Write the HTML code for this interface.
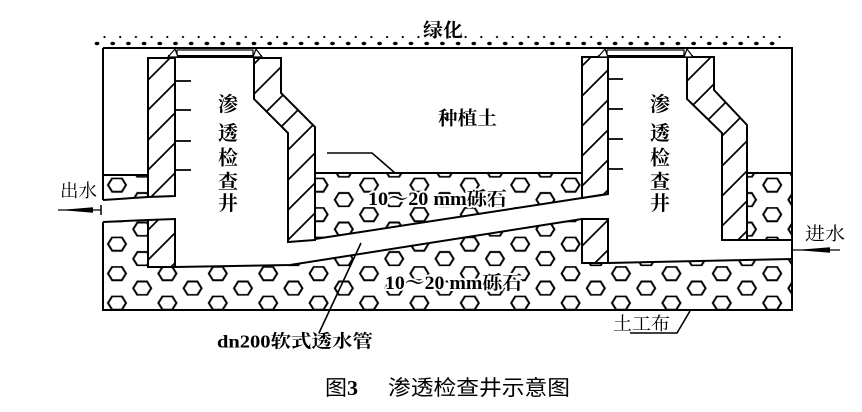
<!DOCTYPE html>
<html><head><meta charset="utf-8">
<style>
html,body{margin:0;padding:0;background:#fff;}
svg{display:block;}
.b{font-family:"Liberation Serif","Noto Serif CJK SC",serif;font-weight:bold;fill:#000;}
.n{font-family:"Liberation Serif","Noto Serif CJK SC",serif;font-weight:normal;fill:#000;}
.s{font-family:"Liberation Sans","Noto Sans CJK SC",sans-serif;font-weight:normal;fill:#000;}
.g{paint-order:stroke;stroke:#fff;stroke-width:4px;stroke-linejoin:round;}
</style></head><body>
<svg width="862" height="412" viewBox="0 0 862 412" xmlns="http://www.w3.org/2000/svg">
<defs>
<pattern id="hx" patternUnits="userSpaceOnUse" x="104.4" y="0.625" width="50.4" height="29.5">
<path d="M3.6,7.375 L7.8,0.6 L17.4,0.6 L21.6,7.375 L17.4,14.15 L7.8,14.15Z M28.8,22.125 L33,15.35 L42.6,15.35 L46.8,22.125 L42.6,28.9 L33,28.9Z" fill="none" stroke="#000" stroke-width="2"/>
</pattern>
<pattern id="ht" patternUnits="userSpaceOnUse" x="-12" y="0" width="30" height="30">
<path d="M-2,32 L32,-2 M-2,2 L2,-2 M28,32 L32,28" stroke="#000" stroke-width="1.7"/>
</pattern>
<pattern id="dt" patternUnits="userSpaceOnUse" x="94" y="34" width="15.7" height="12">
<ellipse cx="3" cy="9.5" rx="2.4" ry="1.7" fill="#000"/>
<circle cx="10.5" cy="3" r="1.1" fill="#000"/>
</pattern>
</defs>

<!-- top dots -->
<rect x="92" y="34" width="690" height="12" fill="url(#dt)"/>

<!-- gravel regions -->
<g fill="url(#hx)">
<polygon points="103,175 148,175 148,197 103,200"/>
<polygon points="103,222 148,220 148,267 175,267 290,265 582,219 582,263 608,263 792,259 792,310 103,310"/>
<polygon points="315,173 582,173 582,198 315,239"/>
<polygon points="748,173 792,173 792,240 748,240"/>
</g>

<!-- outlines -->
<g fill="none" stroke="#000" stroke-width="2" stroke-linejoin="miter">
<path d="M103,48 H792 V310 H103 V222"/>
<path d="M103,48 V200"/>
<path d="M103,175 H148"/>
<path d="M103,200 L148,197"/>
<path d="M103,222 L148,220"/>
<path d="M175,267 L290,265 L582,219"/>
<path d="M315,239 L608,194"/>
<path d="M315,173 H582"/>
<path d="M748,173 H792"/>
<path d="M608,263 L792,259"/>
<path d="M722,240 H792"/>
</g>
<path d="M101,205 V215" stroke="#000" stroke-width="1.5"/>

<!-- hatched walls -->
<g fill="url(#ht)" stroke="#000" stroke-width="2">
<polygon points="148,58 175,58 175,196 148,197"/>
<polygon points="148,220 175,219 175,267 148,267"/>
<polygon points="254,58 281,58 281,93 315,127 315,240 288,242 288,133 254,99"/>
<polygon points="582,57 608,57 608,194 582,198"/>
<polygon points="582,219 608,219 608,263 582,263"/>
<polygon points="687,57 714,57 714,90 747,125 747,240 722,240 722,133 687,99"/>
</g>

<!-- rungs -->
<path d="M175,81 H191 M175,110 H191 M175,141 H191 M175,170 H191 M608,79 H623 M608,109 H623 M608,139 H623 M608,169 H623" stroke="#000" stroke-width="1.8"/>

<!-- covers -->
<g stroke="#000" fill="#fff">
<rect x="177" y="50" width="76" height="6" stroke-width="1.2"/>
<path d="M168,56.5 H262" stroke-width="3"/>
<polygon points="168,57 175,49 178,57" stroke-width="1.2"/>
<polygon points="253,57 256,49 262,57" stroke-width="1.2"/>
<rect x="607" y="50" width="77" height="6" stroke-width="1.2"/>
<path d="M598,56.5 H693" stroke-width="3"/>
<polygon points="598,57 605,49 608,57" stroke-width="1.2"/>
<polygon points="684,57 687,49 693,57" stroke-width="1.2"/>
</g>

<!-- leaders -->
<g fill="none" stroke="#000" stroke-width="1.6">
<path d="M327,153 H372 L395,173"/>
<path d="M319,333 L361,243"/>
<path d="M630,333 H677 L690,311"/>
</g>

<!-- arrows -->
<path d="M58,210 H101" stroke="#000" stroke-width="1.3"/>
<polygon points="60,210 93,207.3 93,212.7" fill="#000"/>
<path d="M792,250 H840" stroke="#000" stroke-width="1.3"/>
<polygon points="796,250 830,247.3 830,252.7" fill="#000"/>

<!-- texts -->
<text class="b" x="423" y="36.5" font-size="19" textLength="40" lengthAdjust="spacingAndGlyphs">绿化</text>
<text class="b" x="438" y="124.5" font-size="19" textLength="59" lengthAdjust="spacingAndGlyphs">种植土</text>

<g class="b" font-size="20" text-anchor="middle">
<text x="228" y="111">渗</text>
<text x="228" y="140">透</text>
<text x="228" y="164.5">检</text>
<text x="228" y="188.5">查</text>
<text x="228" y="210">井</text>
<text x="660" y="111">渗</text>
<text x="660" y="140">透</text>
<text x="660" y="164.5">检</text>
<text x="660" y="188.5">查</text>
<text x="660" y="210">井</text>
</g>

<text class="n" x="60" y="197" font-size="18" textLength="37" lengthAdjust="spacingAndGlyphs">出水</text>
<text class="n" x="805" y="240" font-size="18" textLength="40" lengthAdjust="spacingAndGlyphs">进水</text>

<text class="b g" x="368" y="205" font-size="19" textLength="139" lengthAdjust="spacingAndGlyphs">10～20 mm砾石</text>
<text class="b g" x="385" y="289" font-size="19" textLength="137" lengthAdjust="spacingAndGlyphs">10～20 mm砾石</text>

<text class="b" x="217" y="347.5" font-size="18" textLength="156" lengthAdjust="spacingAndGlyphs">dn200软式透水管</text>
<text class="n" x="613" y="330" font-size="18" textLength="57" lengthAdjust="spacingAndGlyphs">土工布</text>

<text class="s" x="325" y="395" font-size="21" textLength="33" lengthAdjust="spacingAndGlyphs">图<tspan class="b">3</tspan></text>
<text class="s" x="388" y="395" font-size="21" textLength="182" lengthAdjust="spacingAndGlyphs">渗透检查井示意图</text>
</svg>
</body></html>
